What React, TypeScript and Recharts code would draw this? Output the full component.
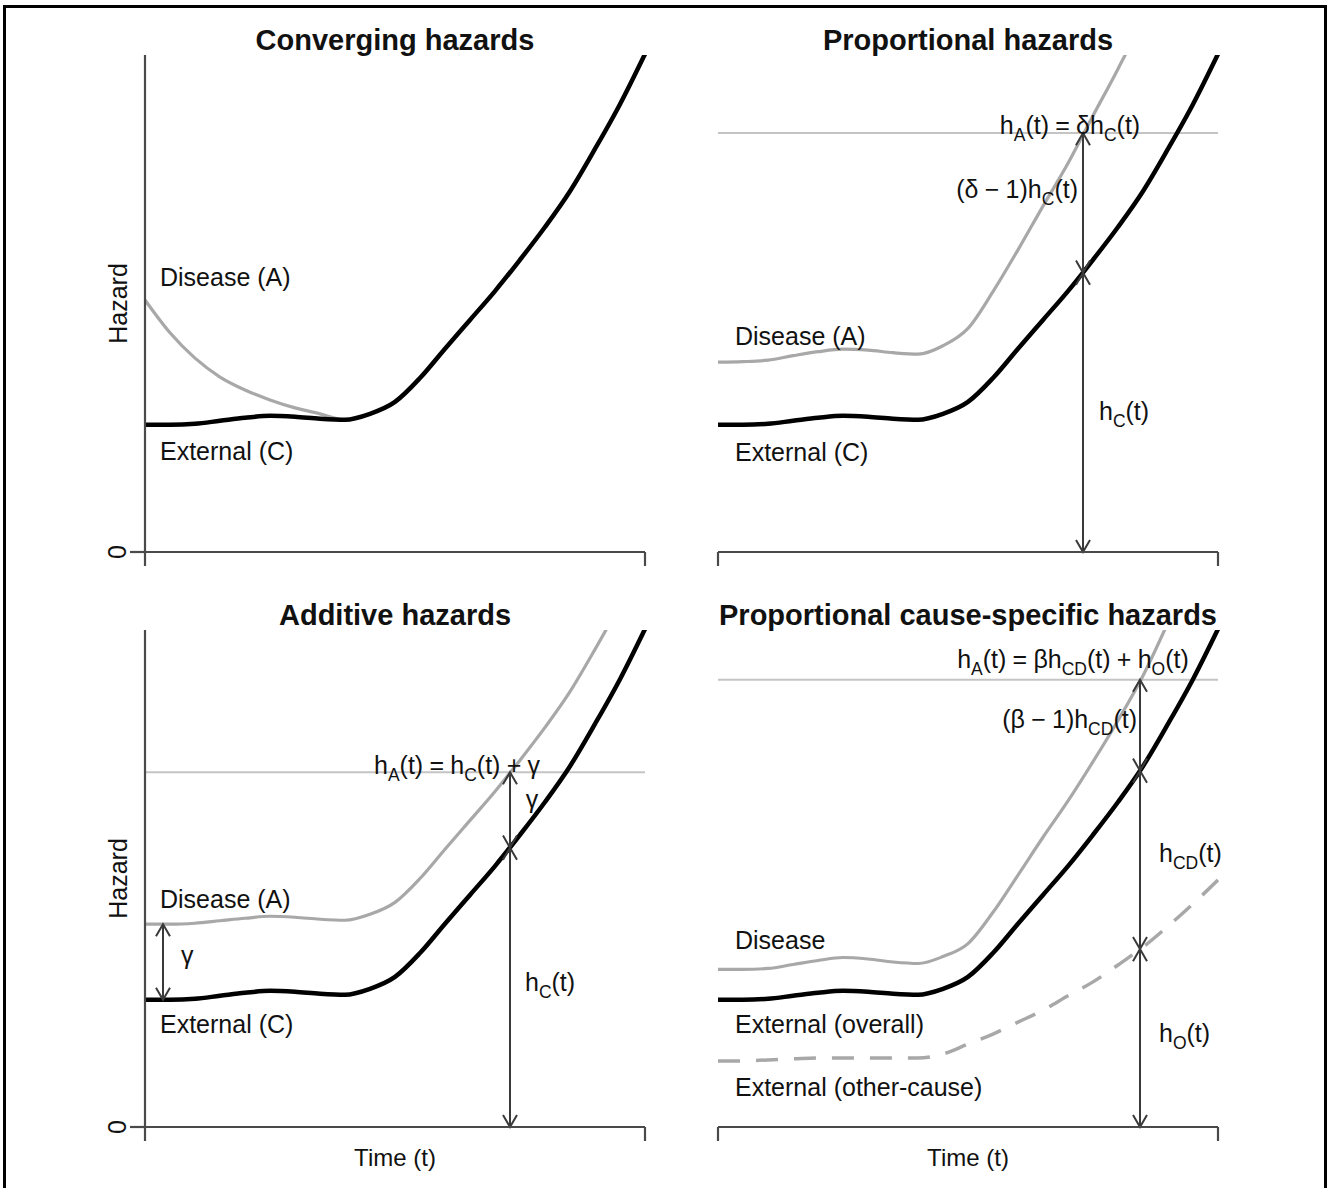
import React from "react";
import { LineChart, Line, XAxis, YAxis, ReferenceLine, ReferenceDot } from "recharts";

// time grid: t runs 0-100 across every panel
const timePoints = [0, 5, 10, 15, 20, 25, 30, 35, 40, 45, 50, 55, 60, 65, 70, 75, 80, 85, 90, 95, 100];

// external hazard h_C(t), the black curve (same in all four panels)
const externalHazard = [25.6, 25.6, 25.8, 26.4, 27.0, 27.4, 27.2, 26.8, 26.6, 27.8, 30.2, 35.0, 40.9, 46.7, 52.5, 58.8, 65.4, 72.6, 81.1, 90.1, 100.2];

// disease hazards h_A(t), grey curves
const convergingDisease = [50.7, 44.1, 39.0, 35.2, 32.6, 30.6, 29.0, 27.8, 26.6, 27.8, null, null, null, null, null, null, null, null, null, null, null];
const proportionalDisease = [38.2, 38.3, 38.6, 39.5, 40.3, 40.8, 40.6, 40.1, 39.8, 41.5, 45.0, 52.4, 60.8, 69.6, 78.2, 87.8, 97.2, 107.5, 121.0, null, null];
const additiveDisease = [40.8, 40.8, 41.0, 41.5, 42.0, 42.4, 42.2, 41.8, 41.6, 42.8, 45.2, 50.0, 55.9, 61.7, 67.5, 73.8, 80.4, 87.6, 96.1, 105.1, null];
const causeSpecificDisease = [31.7, 31.7, 31.9, 32.7, 33.5, 34.1, 33.8, 33.2, 32.9, 34.3, 36.9, 43.2, 50.7, 58.3, 65.6, 73.5, 81.8, 90.8, 101.5, null, null];

// other-cause part of the external hazard h_O(t), dashed
const otherCauseHazard = [13.3, 13.3, 13.5, 13.7, 13.9, 13.9, 13.9, 13.9, 13.9, 14.7, 16.7, 18.7, 21.1, 23.5, 26.4, 29.2, 32.6, 36.2, 40.4, 44.9, 49.7];

const panelTitles = ["Converging hazards", "Proportional hazards", "Additive hazards", "Proportional cause-specific hazards"];

// arrow positions (t) and the hazard levels they span
const proportionalMarks = { t: 73, hC: 56.2, hA: 84.3 };
const additiveMarks = { t: 73, hC: 56.2, hA: 71.4, gammaT: 3.6, gammaLow: 25.6, gammaHigh: 40.8 };
const causeSpecificMarks = { t: 84.4, hO: 35.8, hC: 71.7, hA: 90.0 };

const hazardTable = timePoints.map((t, i) => ({
  t,
  external: externalHazard[i],
  converging: convergingDisease[i],
  proportional: proportionalDisease[i],
  additive: additiveDisease[i],
  causeSpecific: causeSpecificDisease[i],
  otherCause: otherCauseHazard[i],
}));

const INK = "#111";
const AXIS = "#4a4a4a";
const GREY = "#a8a8a8";
const GUIDE = "#c4c4c4";
const ARROW = "#3a3a3a";
const FONT = "'Liberation Sans', Arial, Helvetica, sans-serif";

// text with _{..} subscripts
function MathText({ x, y, text, anchor = "start", size = 25, weight = "normal" }: any) {
  const parts = text.split(/_\{([^}]*)\}/);
  const shift = size * 0.28;
  return (
    <text x={x} y={y + size * 0.35} textAnchor={anchor} fontSize={size} fontWeight={weight} fill={INK} fontFamily={FONT}>
      {parts.map((p: string, i: number) => {
        const sub = i % 2 === 1;
        const dy = i === 0 ? 0 : sub ? shift : -shift;
        return (
          <tspan key={i} dy={dy} fontSize={sub ? size * 0.7 : size}>
            {p}
          </tspan>
        );
      })}
    </text>
  );
}

function note(key: string, t: number, h: number, text: string, anchor = "start", size = 25, weight = "normal") {
  return (
    <ReferenceDot
      key={key}
      x={t}
      y={h}
      r={0}
      ifOverflow="visible"
      shape={(p: any) => <MathText x={p.cx} y={p.cy} text={text} anchor={anchor} size={size} weight={weight} />}
    />
  );
}

function ArrowShape(props: any) {
  const { x1, y1, x2, y2 } = props;
  const len = 14;
  const spread = Math.PI / 6;
  const head = (px: number, py: number, qx: number, qy: number) => {
    const a = Math.atan2(py - qy, px - qx);
    return `M${px - len * Math.cos(a - spread)},${py - len * Math.sin(a - spread)}L${px},${py}L${px - len * Math.cos(a + spread)},${py - len * Math.sin(a + spread)}`;
  };
  return (
    <g>
      <line x1={x1} y1={y1} x2={x2} y2={y2} stroke={ARROW} strokeWidth={2} />
      <path d={head(x1, y1, x2, y2) + head(x2, y2, x1, y1)} fill="none" stroke={ARROW} strokeWidth={2} />
    </g>
  );
}

function arrow(key: string, t: number, from: number, to: number) {
  return (
    <ReferenceLine
      key={key}
      segment={[{ x: t, y: from }, { x: t, y: to }]}
      ifOverflow="visible"
      stroke={ARROW}
      shape={ArrowShape}
    />
  );
}

function guide(key: string, h: number) {
  return <ReferenceLine key={key} y={h} stroke={GUIDE} strokeWidth={2} />;
}

function ZeroTick(props: any) {
  const { x, y, payload } = props;
  const cx = x - 11;
  return (
    <text x={cx} y={y} transform={`rotate(-90 ${cx} ${y})`} textAnchor="middle" dominantBaseline="central" fontSize={25} fill={INK}>
      {payload.value}
    </text>
  );
}

// x axis has end ticks but no tick labels
function BlankTick() {
  return <g />;
}

const axisStroke = { stroke: AXIS, strokeWidth: 2.2 };

function axes(withY: boolean, withTime: boolean) {
  return [
    <XAxis
      key="x"
      type="number"
      dataKey="t"
      domain={[0, 100]}
      ticks={[0, 100]}
      tick={BlankTick}
      tickSize={14}
      height={withTime ? 61 : 23}
      stroke={AXIS}
      axisLine={axisStroke}
      tickLine={axisStroke}
      label={withTime ? { value: "Time (t)", position: "insideTop", offset: 22, fontSize: 24, fill: INK } : undefined}
    />,
    <YAxis
      key="y"
      type="number"
      domain={[0, 100]}
      allowDataOverflow
      hide={!withY}
      width={145}
      ticks={[0]}
      tickSize={15}
      tick={ZeroTick}
      stroke={AXIS}
      axisLine={axisStroke}
      tickLine={axisStroke}
      label={
        withY
          ? { value: "Hazard", angle: -90, position: "insideLeft", offset: 118, fontSize: 25, fill: INK, style: { textAnchor: "middle" } }
          : undefined
      }
    />,
  ];
}

function curve(key: string, color: string, width: number, dash?: string) {
  return (
    <Line
      key={key}
      dataKey={key}
      type="monotone"
      stroke={color}
      strokeWidth={width}
      strokeDasharray={dash}
      dot={false}
      activeDot={false}
      isAnimationActive={false}
    />
  );
}

function Panel({ left, top, leftCol, bottomRow, children }: any) {
  const margin = leftCol ? { top: 55, right: 18, bottom: 0, left: 0 } : { top: 55, right: 109, bottom: 0, left: 55 };
  return (
    <div style={{ position: "absolute", left, top }}>
      <LineChart width={leftCol ? 663 : 664} height={bottomRow ? 613 : 575} data={hazardTable} margin={margin}>
        {axes(leftCol, bottomRow)}
        {children}
      </LineChart>
    </div>
  );
}

export default function App() {
  const pm = proportionalMarks;
  const am = additiveMarks;
  const cm = causeSpecificMarks;
  return (
    <div style={{ position: "absolute", left: 0, top: 0, width: 1327, height: 1188, overflow: "hidden", background: "#fff", fontFamily: FONT }}>
      <div style={{ position: "absolute", left: 3, top: 5, width: 1324, height: 1220, border: "3px solid #000", boxSizing: "border-box" }} />

      <Panel left={0} top={0} leftCol bottomRow={false}>
        {curve("converging", GREY, 3.2)}
        {curve("external", "#000", 4.5)}
        {note("title", 50, 103, panelTitles[0], "middle", 29, "bold")}
        {note("dis", 3, 55.3, "Disease (A)")}
        {note("ext", 3, 20.3, "External (C)")}
      </Panel>

      <Panel left={663} top={0} leftCol={false} bottomRow={false}>
        {guide("g", pm.hA)}
        {curve("proportional", GREY, 3.2)}
        {curve("external", "#000", 4.5)}
        {arrow("a1", pm.t, 0, pm.hC)}
        {arrow("a2", pm.t, pm.hC, pm.hA)}
        {note("title", 50, 103, panelTitles[1], "middle", 29, "bold")}
        {note("eq", 70.4, 85.9, "h_{A}(t)\u2005=\u2005δh_{C}(t)", "middle")}
        {note("diff", 72, 73, "(δ\u2005−\u20051)h_{C}(t)", "end")}
        {note("hc", 76.2, 28.3, "h_{C}(t)")}
        {note("dis", 3.4, 43.5, "Disease (A)")}
        {note("ext", 3.4, 20.1, "External (C)")}
      </Panel>

      <Panel left={0} top={575} leftCol bottomRow>
        {guide("g", am.hA)}
        {curve("additive", GREY, 3.2)}
        {curve("external", "#000", 4.5)}
        {arrow("a1", am.t, 0, am.hC)}
        {arrow("a2", am.t, am.hC, am.hA)}
        {arrow("a3", am.gammaT, am.gammaLow, am.gammaHigh)}
        {note("title", 50, 103, panelTitles[2], "middle", 29, "bold")}
        {note("eq", 62.4, 72.8, "h_{A}(t)\u2005=\u2005h_{C}(t)\u2005+\u2005γ", "middle")}
        {note("gam", 77.4, 66, "γ", "middle")}
        {note("hc", 76, 29.2, "h_{C}(t)")}
        {note("gam2", 7.2, 34.6, "γ")}
        {note("dis", 3, 45.9, "Disease (A)")}
        {note("ext", 3, 20.7, "External (C)")}
      </Panel>

      <Panel left={663} top={575} leftCol={false} bottomRow>
        {guide("g", cm.hA)}
        {curve("causeSpecific", GREY, 3.2)}
        {curve("otherCause", GREY, 3.5, "22 16")}
        {curve("external", "#000", 4.5)}
        {arrow("a1", cm.t, 0, cm.hO)}
        {arrow("a2", cm.t, cm.hO, cm.hC)}
        {arrow("a3", cm.t, cm.hC, cm.hA)}
        {note("title", 50, 103, panelTitles[3], "middle", 29, "bold")}
        {note("eq", 71, 94.2, "h_{A}(t)\u2005=\u2005βh_{CD}(t)\u2005+\u2005h_{O}(t)", "middle")}
        {note("diff", 83.8, 82.1, "(β\u2005−\u20051)h_{CD}(t)", "end")}
        {note("hcd", 88.2, 55, "h_{CD}(t)")}
        {note("ho", 88.2, 18.9, "h_{O}(t)")}
        {note("dis", 3.4, 37.6, "Disease")}
        {note("ext", 3.4, 20.7, "External (overall)")}
        {note("oth", 3.4, 8.0, "External (other-cause)")}
      </Panel>
    </div>
  );
}
